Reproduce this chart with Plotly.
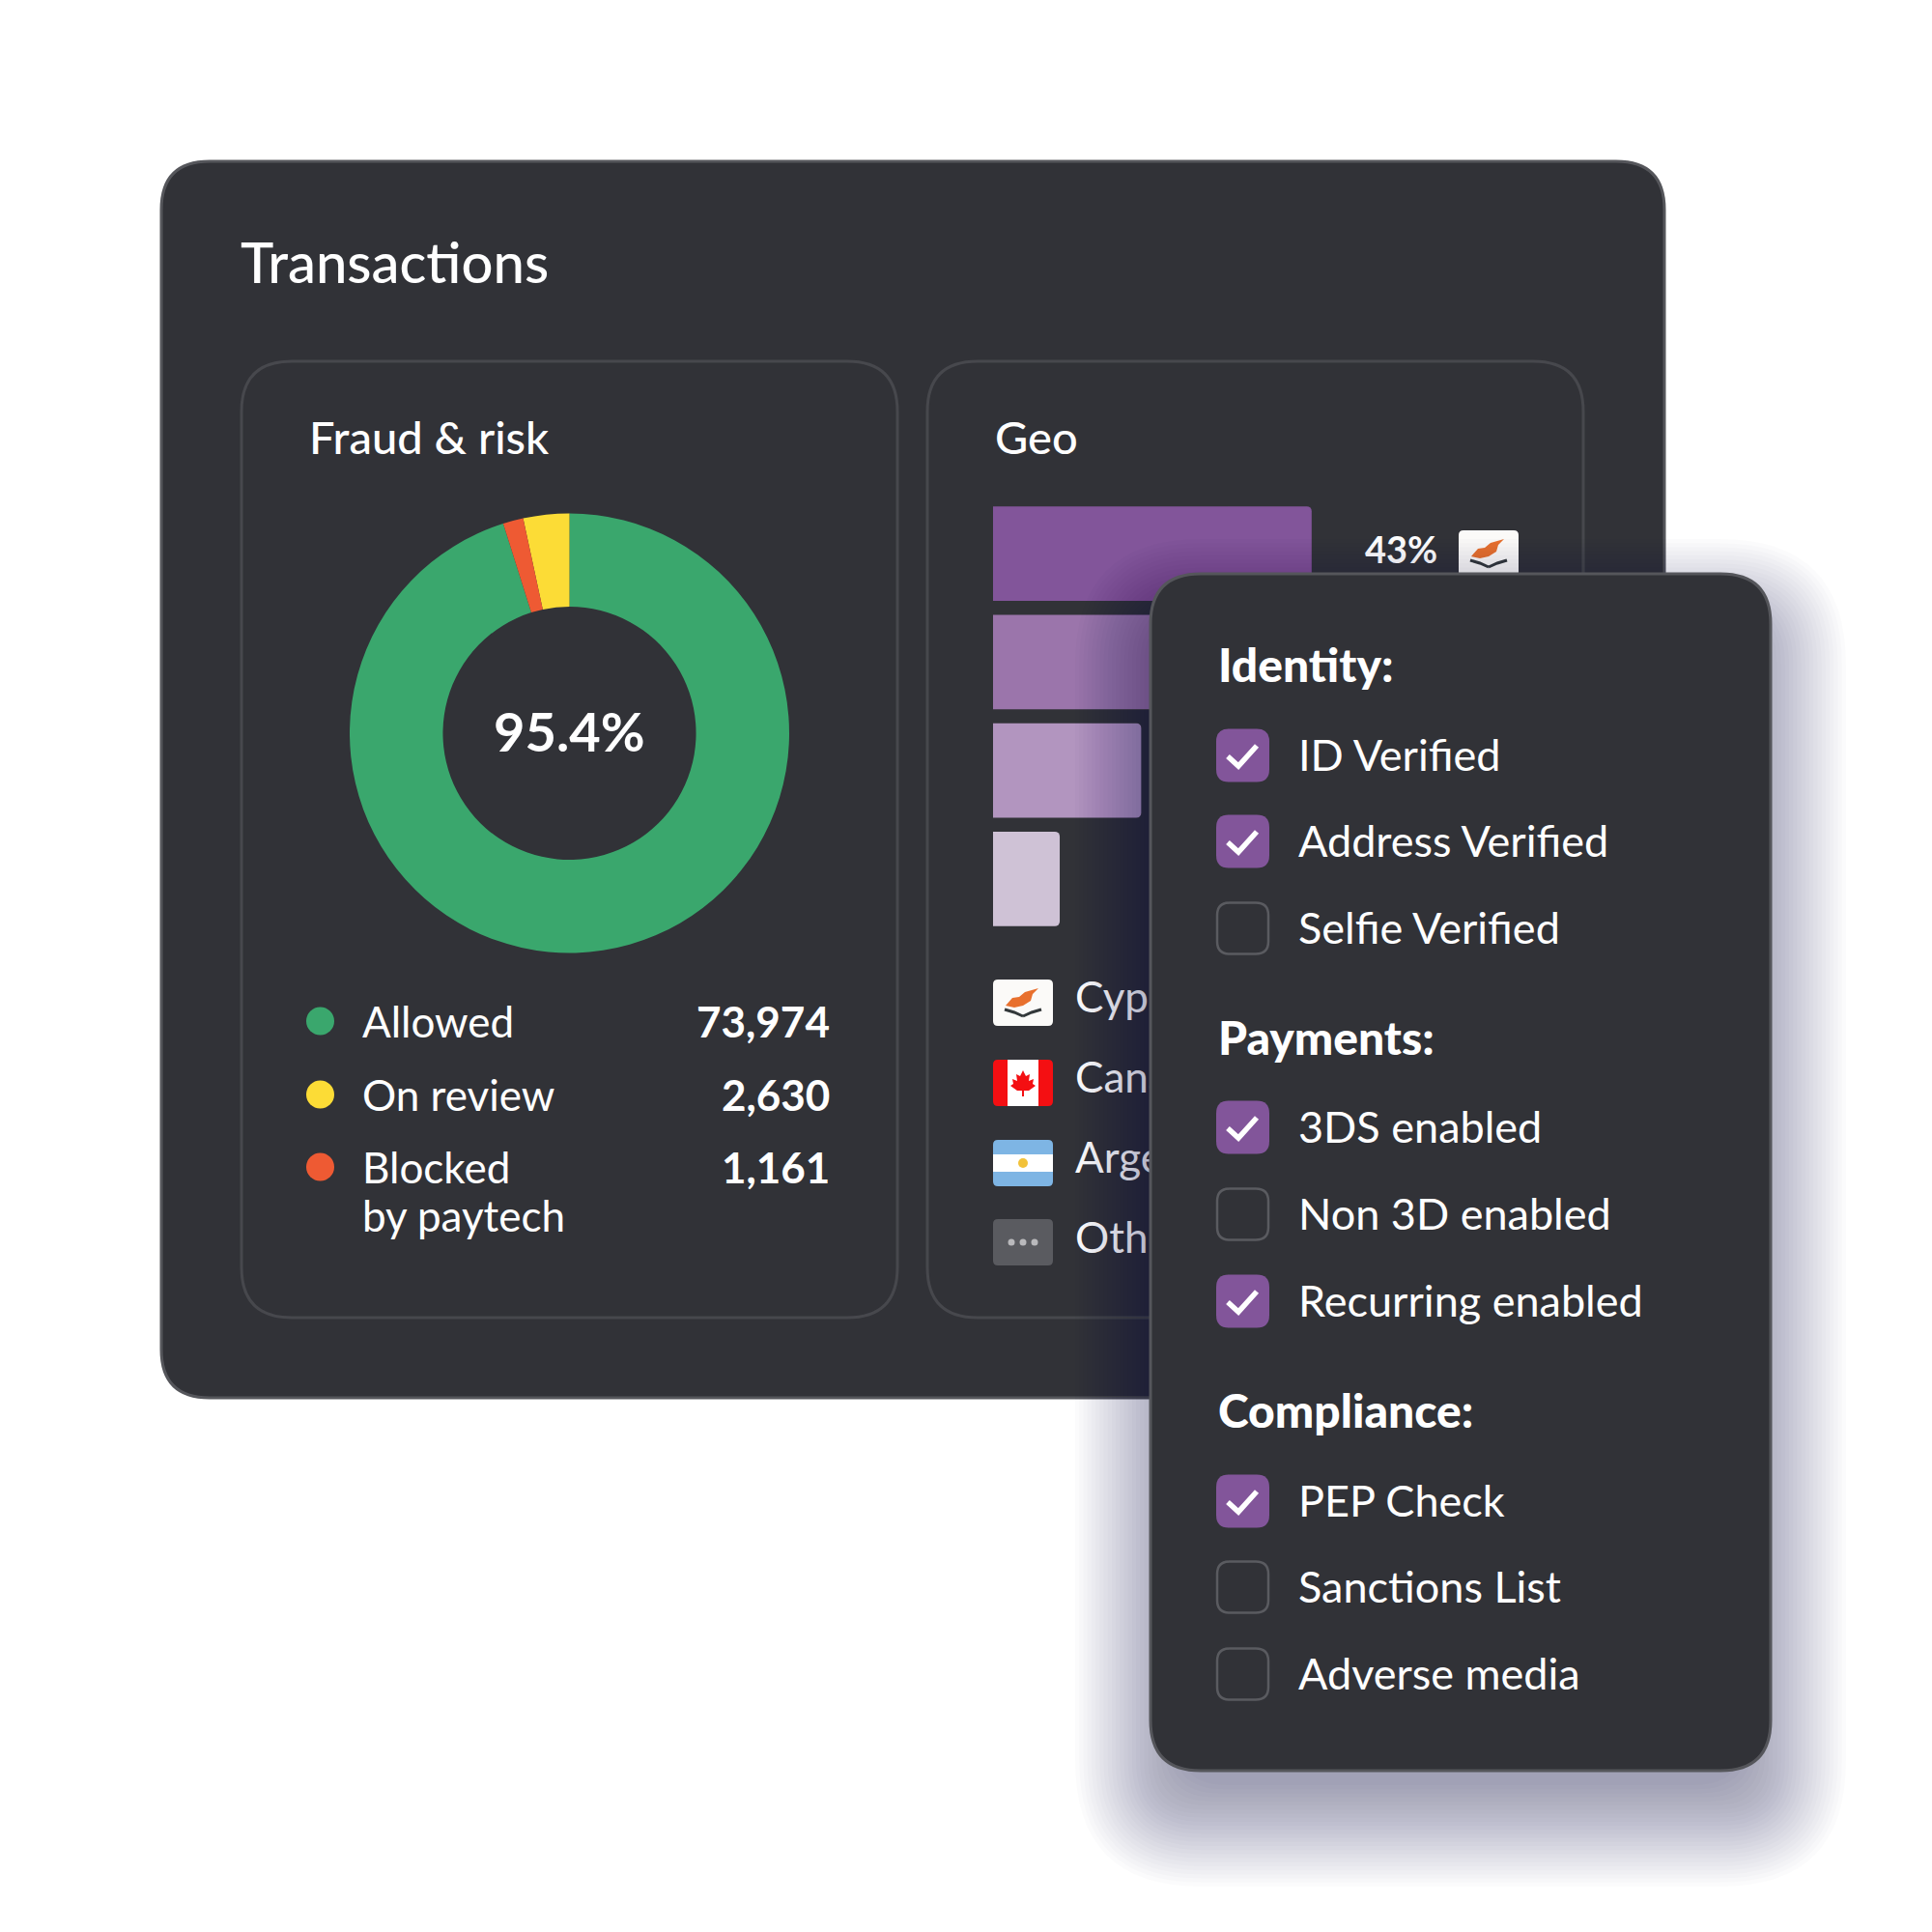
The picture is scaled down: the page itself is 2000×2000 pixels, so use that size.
import plotly.graph_objects as go

SIZE = 2000
FONT = "Lato"
WHITE = "#FFFFFF"
CARD = "#313237"
OUTER_EDGE = "#55565B"
INNER_EDGE = "#47484D"
PURPLE = "#82559A"

# ---------- data ----------
outcome_labels = ["Allowed", "On review", "Blocked"]
outcome_lines = [["Allowed"], ["On review"], ["Blocked", "by paytech"]]
outcome_values = [73974, 2630, 1161]
outcome_colors = ["#3AA76D", "#FCDC36", "#EE5A33"]
allowed_share = "95.4%"

countries = ["Cyprus", "Canada", "Argentina", "Other"]
country_share = [43, 28, 20, 9]
bar_colors = ["#82559A", "#9B75AB", "#B295BF", "#CFC2D6"]

section_names = ["Identity:", "Payments:", "Compliance:"]
identity_items = ["ID Verified", "Address Verified", "Selfie Verified"]
identity_on = [True, True, False]
payment_items = ["3DS enabled", "Non 3D enabled", "Recurring enabled"]
payment_on = [True, False, True]
compliance_items = ["PEP Check", "Sanctions List", "Adverse media"]
compliance_on = [True, False, False]


# ---------- pixel helpers for the decorative furniture ----------
def px(x):
    return x / SIZE


def py(y):
    return 1 - y / SIZE


def rr_path(x0, y0, x1, y1, r):
    p = [
        ("M", x0 + r, y0), ("L", x1 - r, y0), ("Q", x1, y0, x1, y0 + r),
        ("L", x1, y1 - r), ("Q", x1, y1, x1 - r, y1), ("L", x0 + r, y1),
        ("Q", x0, y1, x0, y1 - r), ("L", x0, y0 + r), ("Q", x0, y0, x0 + r, y0),
    ]
    return poly_cmd(p) + " Z"


def poly_cmd(cmds):
    out = []
    for c in cmds:
        vals = c[1:]
        pairs = [f"{px(vals[i]):.5f},{py(vals[i + 1]):.5f}" for i in range(0, len(vals), 2)]
        out.append(c[0] + " " + " ".join(pairs))
    return " ".join(out)


def poly(points, close=True):
    cmds = [("M" if i == 0 else "L", a, b) for i, (a, b) in enumerate(points)]
    return poly_cmd(cmds) + (" Z" if close else "")


shapes_below, shapes_above = [], []


def add_path(bucket, path, fill=None, line=None, width=0, opacity=1.0, layer="above"):
    bucket.append(dict(
        type="path", xref="paper", yref="paper", path=path, layer=layer,
        fillcolor=fill if fill else "rgba(0,0,0,0)", opacity=opacity,
        line=dict(color=line if line else "rgba(0,0,0,0)", width=width),
    ))


def add_circle(bucket, cx, cy, r, fill, layer="above"):
    bucket.append(dict(
        type="circle", xref="paper", yref="paper", layer=layer,
        x0=px(cx - r), x1=px(cx + r), y0=py(cy + r), y1=py(cy - r),
        fillcolor=fill, line=dict(width=0),
    ))


def flag_cyprus(x, y):
    add_path(shapes_above, rr_path(x, y, x + 62, y + 48, 5), fill="#FBFAF8")
    island = [(13, 27), (20, 19), (27, 18), (33, 13), (47, 9), (41, 15), (39, 22), (31, 27), (22, 29)]
    add_path(shapes_above, poly([(x + a, y + b) for a, b in island]), fill="#E8702E")
    add_path(shapes_above, poly([(x + a, y + b) for a, b in [(12, 31), (22, 34), (31, 38)]], close=False),
             line="#33383A", width=3)
    add_path(shapes_above, poly([(x + a, y + b) for a, b in [(50, 31), (40, 34), (31, 38)]], close=False),
             line="#33383A", width=3)


def flag_canada(x, y):
    add_path(shapes_above, rr_path(x, y, x + 62, y + 48, 5), fill="#F40F12")
    add_path(shapes_above, poly([(x + 15, y), (x + 47, y), (x + 47, y + 48), (x + 15, y + 48)]), fill="#FFFFFF")
    leaf = [(31, 11), (34, 17), (38, 15), (37, 22), (42, 20), (41, 25), (44, 27), (37, 32), (32, 32),
            (32, 38), (30, 38), (30, 32), (25, 32), (18, 27), (21, 25), (20, 20), (25, 22), (24, 15), (28, 17)]
    add_path(shapes_above, poly([(x + a, y + b) for a, b in leaf]), fill="#F40F12")


def flag_argentina(x, y):
    add_path(shapes_above, rr_path(x, y, x + 62, y + 48, 5), fill="#7EB5E4")
    add_path(shapes_above, poly([(x, y + 15), (x + 62, y + 15), (x + 62, y + 33), (x, y + 33)]), fill="#FFFFFF")
    add_circle(shapes_above, x + 31, y + 24, 5, "#F2C23A")


def flag_other(x, y):
    add_path(shapes_above, rr_path(x, y, x + 62, y + 48, 5), fill="#5A5B60")
    for dx in (19, 31, 43):
        add_circle(shapes_above, x + dx, y + 24, 3.5, "#B9B9BC")


def checkbox(cy, on):
    x0, x1, y0, y1 = 1259, 1314, cy - 27.5, cy + 27.5
    if on:
        add_path(shapes_above, rr_path(x0, y0, x1, y1, 13), fill=PURPLE)
        tick = [(x0 + 12, cy + 1), (x0 + 23, cy + 11), (x0 + 42, cy - 10)]
        add_path(shapes_above, poly(tick, close=False), line=WHITE, width=5.5)
    else:
        add_path(shapes_above, rr_path(x0 + 1, y0 + 1, x1 - 1, y1 - 1, 13), line="#5A5B60", width=2.5)


# ---------- static panels ----------
add_path(shapes_below, rr_path(167, 167, 1723, 1447, 50), fill=CARD, line=OUTER_EDGE, width=3, layer="below")
add_path(shapes_below, rr_path(250, 374, 929, 1364, 52), line=INNER_EDGE, width=3, layer="below")
add_path(shapes_below, rr_path(960, 374, 1639, 1364, 52), line=INNER_EDGE, width=3, layer="below")

flag_cyprus(1510, 549)
flag_cyprus(1028, 1014)
flag_canada(1028, 1097)
flag_argentina(1028, 1180)
flag_other(1028, 1262)

# soft shadow around the floating panel
steps = 26
for i in range(steps):
    grow = 78 - i * 4.2
    add_path(shapes_above,
             rr_path(1191 - grow, 594 + 42 - grow, 1833 + grow, 1833 + 42 + grow, 52 + max(grow, 0)),
             fill="#1E1F26", opacity=0.016)

add_path(shapes_above, rr_path(1191, 594, 1833, 1833, 52), fill=CARD, line=OUTER_EDGE, width=3)

annotations = []


def text(x, y, s, size, weight=400, anchor="left"):
    annotations.append(dict(
        xref="paper", yref="paper", x=px(x), y=py(y), text=s, showarrow=False,
        xanchor=anchor, yanchor="middle", align=anchor,
        font=dict(family=FONT, size=size, color=WHITE, weight=weight),
    ))


text(247, 270, "Transactions", 58, 500)
text(318, 452, "Fraud &amp; risk", 47, 500)
text(1028, 452, "Geo", 47, 500)
text(589.5, 756, allowed_share, 56, 700, "center")

legend_y = [1057, 1133, 1208]
for lines, value, color, ly in zip(outcome_lines, outcome_values, outcome_colors, legend_y):
    add_circle(shapes_above, 331.5, ly, 14.5, color)
    for k, line in enumerate(lines):
        text(372.5, ly + k * 50, line, 44)
    text(861, ly, f"{value:,}", 44, 700, "right")

sections = [
    (section_names[0], 687, identity_items, identity_on, [782, 871, 961]),
    (section_names[1], 1073, payment_items, payment_on, [1167, 1257, 1347]),
    (section_names[2], 1459, compliance_items, compliance_on, [1554, 1643, 1733]),
]
for name, hy, items, states, ys in sections:
    text(1259, hy, name, 48, 900)
    for item, state, iy in zip(items, states, ys):
        checkbox(iy, state)
        text(1342, iy - 1, item, 45)

# ---------- figure ----------
fig = go.Figure()

fig.add_trace(go.Bar(
    y=countries, x=country_share, orientation="h",
    marker=dict(color=bar_colors, line=dict(width=0)),
    xaxis="x", yaxis="y", showlegend=False, hoverinfo="skip",
))
fig.add_trace(go.Scatter(
    y=countries[:1], x=[50.2], mode="text", text=[f"{country_share[0]}%"],
    textposition="middle right", cliponaxis=False,
    textfont=dict(family=FONT, size=38, color=WHITE, weight=700),
    xaxis="x", yaxis="y", showlegend=False, hoverinfo="skip",
))
fig.add_trace(go.Scatter(
    y=countries, x=[0] * len(countries), mode="text", text=countries,
    textposition="middle right", cliponaxis=False,
    textfont=dict(family=FONT, size=44, color=WHITE),
    xaxis="x2", yaxis="y2", showlegend=False, hoverinfo="skip",
))
fig.add_trace(go.Pie(
    labels=outcome_labels, values=outcome_values, hole=0.576, sort=False,
    direction="counterclockwise", rotation=0, textinfo="none",
    marker=dict(colors=outcome_colors, line=dict(width=0)),
    domain=dict(x=[px(362), px(817)], y=[py(986.5), py(531.5)]),
    showlegend=False, hoverinfo="skip",
))

hidden = dict(visible=False, fixedrange=True)
fig.update_layout(
    width=SIZE, height=SIZE, margin=dict(l=0, r=0, t=0, b=0, pad=0),
    paper_bgcolor=WHITE, plot_bgcolor="rgba(0,0,0,0)",
    font=dict(family=FONT, color=WHITE),
    barcornerradius=5, bargap=0.127, showlegend=False,
    xaxis=dict(domain=[px(1028), px(1795)], range=[0, 100], **hidden),
    yaxis=dict(domain=[py(966), py(517)], range=[3.5, -0.5], type="category",
               categoryorder="array", categoryarray=countries, **hidden),
    xaxis2=dict(domain=[px(1113), px(1500)], range=[0, 100], anchor="y2", **hidden),
    yaxis2=dict(domain=[py(1328), py(995)], range=[3.5, -0.5], type="category", anchor="x2",
                categoryorder="array", categoryarray=countries, **hidden),
    shapes=shapes_below + shapes_above,
    annotations=annotations,
)

fig.write_html("out.html", config=dict(displayModeBar=False),
               post_script="document.body.style.margin='0';")
